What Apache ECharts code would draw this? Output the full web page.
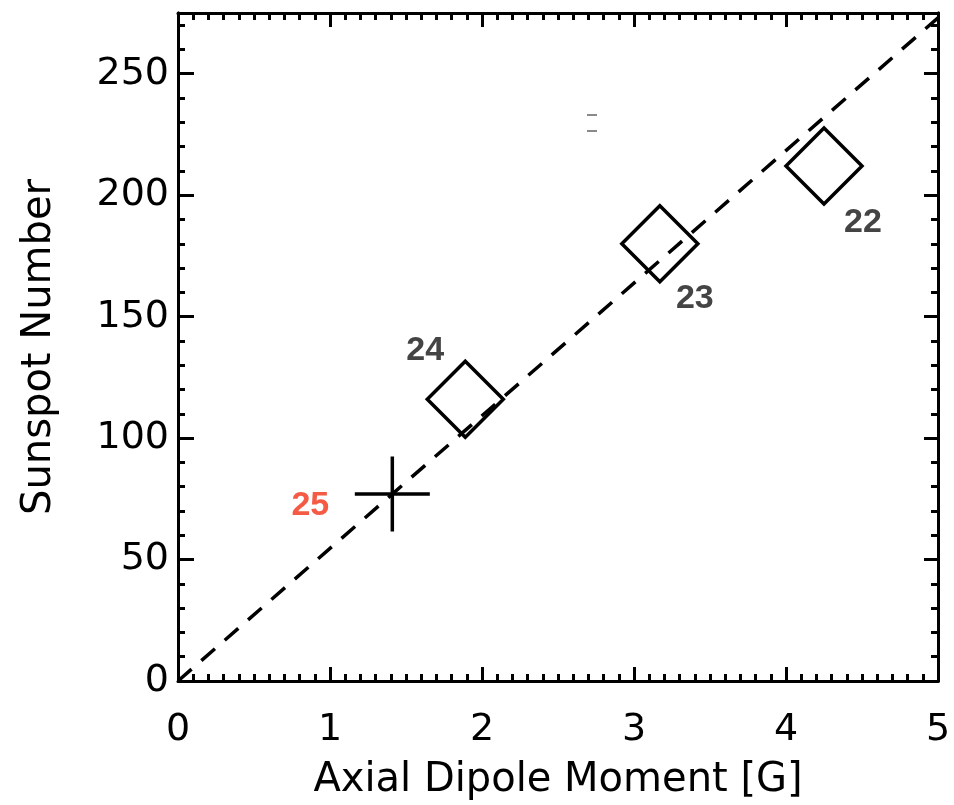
<!DOCTYPE html>
<html>
<head>
<meta charset="utf-8">
<script src="https://cdn.jsdelivr.net/npm/echarts@6/dist/echarts.min.js"></script>
<style>
  html, body { margin: 0; padding: 0; background: #fff; }
  #chart { width: 954px; height: 805px; }
</style>
</head>
<body>
<div id="chart"></div>
<script>
// cycle numbers and their values
var cycles = ['22', '23', '24', '25'];
var dipole = [4.25, 3.17, 1.89, 1.41];      // axial dipole moment [G]
var sunspot = [212, 180, 116, 77];           // sunspot number
// fitted line
var fitX = [0, 5];
var fitY = [0, 273];

var chart = echarts.init(document.getElementById('chart'));

var tickFont = { fontFamily: 'DejaVu Sans', fontSize: 38, color: '#000' };
var axisLine = { show: true, onZero: false, lineStyle: { color: '#000', width: 3 } };

function xAx(pos, labels) {
    return {
        type: 'value', position: pos, min: 0, max: 5, interval: 1,
        axisLine: axisLine,
        axisTick: { show: true, inside: true, length: 14, lineStyle: { color: '#000', width: 3 } },
        minorTick: { show: true, splitNumber: 10, length: 7, lineStyle: { color: '#000', width: 3 } },
        splitLine: { show: false }, minorSplitLine: { show: false },
        axisLabel: Object.assign({ show: labels, margin: 30 }, tickFont),
        name: labels ? 'Axial Dipole Moment [G]' : '',
        nameLocation: 'middle', nameGap: 80, nameMoveOverlap: false,
        nameTextStyle: { fontFamily: 'DejaVu Sans', fontSize: 40, color: '#000' }
    };
}

function yAx(pos, step, len, labels) {
    return {
        type: 'value', position: pos, min: 0, max: 275, interval: step,
        alignTicks: false,
        axisLine: axisLine,
        axisTick: { show: true, inside: true, length: len, lineStyle: { color: '#000', width: 3 } },
        splitLine: { show: false },
        axisLabel: Object.assign({
            show: labels, margin: 9,
            formatter: function (v) { return v % 50 === 0 ? String(v) : ''; }
        }, tickFont),
        name: labels ? 'Sunspot Number' : '',
        nameLocation: 'middle', nameGap: 118, nameMoveOverlap: false,
        nameTextStyle: { fontFamily: 'DejaVu Sans', fontSize: 40, color: '#000' }
    };
}

var labelOffsets = [[39, 57], [35, 55], [-40, -49], [-82, 12]];
var labelColors = ['#444444', '#444444', '#444444', '#f55a45'];

var pts = cycles.map(function (c, i) {
    return {
        name: c,
        value: [dipole[i], sunspot[i]],
        label: { offset: labelOffsets[i], color: labelColors[i] }
    };
});

var labelStyle = {
    show: true, position: 'inside',
    formatter: '{b}',
    fontFamily: 'Liberation Sans', fontWeight: 'bold', fontSize: 34
};

chart.setOption({
    animation: false,
    grid: { left: 178, right: 16, top: 13, bottom: 124, outerBoundsMode: 'none', containLabel: false },
    xAxis: [xAx('bottom', true), xAx('top', false)],
    yAxis: [
        yAx('left', 50, 16, true),
        yAx('left', 10, 7, false),
        yAx('right', 50, 14, false),
        yAx('right', 10, 7, false)
    ],
    graphic: [
        { type: 'rect', shape: { x: 587, y: 114, width: 10, height: 2 }, style: { fill: '#8a8a8a' } },
        { type: 'rect', shape: { x: 587, y: 130, width: 10, height: 2 }, style: { fill: '#8a8a8a' } }
    ],
    series: [
        {
            type: 'line',
            data: fitX.map(function (x, i) { return [x, fitY[i]]; }),
            symbol: 'none',
            lineStyle: { color: '#000', width: 3.5, type: [18, 13] },
            silent: true, z: 1
        },
        {
            type: 'scatter',
            data: pts.slice(0, 3),
            symbol: 'diamond',
            symbolSize: 76,
            itemStyle: { color: 'rgba(0,0,0,0)', borderColor: '#000', borderWidth: 3.5, opacity: 1 },
            label: labelStyle,
            z: 2
        },
        {
            type: 'scatter',
            data: pts.slice(3),
            symbol: 'path://M10,0 L10,20 M0,10 L20,10',
            symbolSize: 75,
            itemStyle: { color: 'rgba(0,0,0,0)', borderColor: '#000', borderWidth: 3.5, opacity: 1 },
            label: labelStyle,
            z: 2
        }
    ]
});
</script>
</body>
</html>
